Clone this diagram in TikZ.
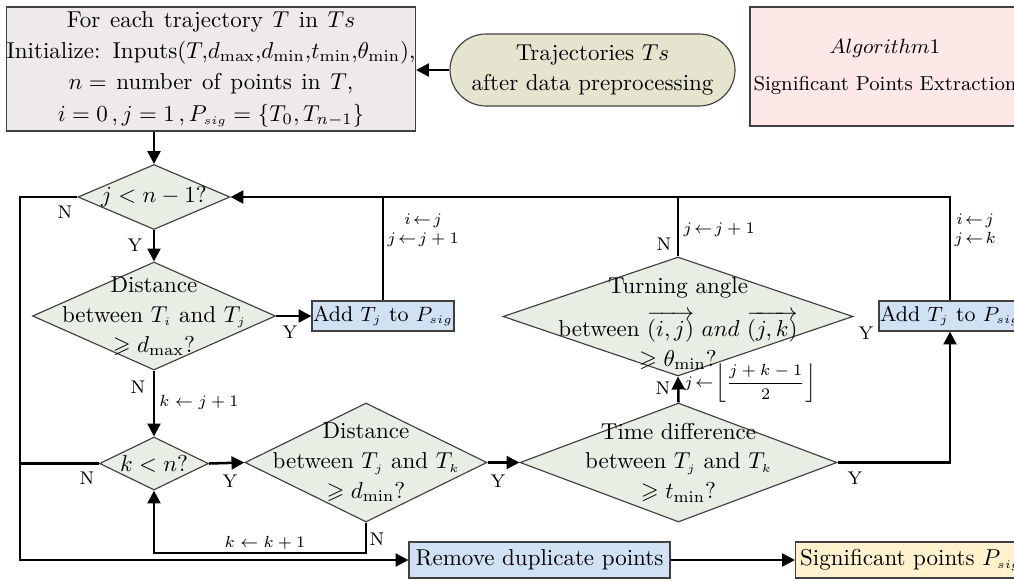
\documentclass[tikz,border=0pt]{standalone}
\usepackage{amsmath,amssymb}
\usetikzlibrary{arrows.meta,shapes.geometric,shapes.misc}
\def\pxu{0.435pt}
\definecolor{initfill}{HTML}{EEEAEB}
\definecolor{pillfill}{HTML}{E5E5CF}
\definecolor{algofill}{HTML}{FCE8E6}
\definecolor{diafill}{HTML}{E9EEE4}
\definecolor{bluefill}{HTML}{CFE1F3}
\definecolor{yelfill}{HTML}{FFF2CC}
\newcommand{\ssub}[1]{_{\scriptscriptstyle #1}}
\newcommand{\widesp}{\spaceskip=4.2pt plus 1pt\relax}
\tikzset{
  base/.style={draw=black!75, line width=0.5pt, inner sep=0pt, align=center, font=\fontsize{10}{13}\selectfont},
  dia/.style={base, diamond, fill=diafill},
  txt/.style={inner sep=0pt, align=center, font=\fontsize{10}{13}\selectfont},
  conn/.style={line width=1.1pt},
  arr/.style={conn, -{Triangle[length=5.6pt,width=5.6pt]}},
  yn/.style={font=\fontsize{8}{9}\selectfont, inner sep=0pt},
  asg/.style={font=\fontsize{7}{8.5}\selectfont, inner sep=0pt, align=center},
}
\begin{document}
\begin{tikzpicture}[x=0.435pt,y=-0.435pt]
\useasboundingbox (0,0) rectangle (1014,580);
\clip (0,0) rectangle (1014,580);
% boxes
\node[base, fill=initfill, minimum width=408*\pxu, minimum height=124*\pxu, font=\fontsize{10}{13.6}\selectfont\widesp] (init) at (211,69)
  {For each trajectory $T$ in $Ts$\\
   Initialize: Inputs$\thinmuskip=0mu(T,d_{\max},d_{\min},t_{\min},\theta_{\min})$,\\
   $n=$ number of points in $T$,\\
   $i=0\,,j=1\,,P\ssub{sig}=\{T_0,T_{n-1}\}$};
\node[base, rounded rectangle, fill=pillfill, minimum width=285*\pxu, minimum height=72*\pxu] (pill) at (592.5,70)
  {Trajectories $Ts$\\after data preprocessing};
\node[base, fill=algofill, minimum width=270*\pxu, minimum height=119*\pxu, font=\fontsize{8.8}{12}\selectfont] (algo) at (885,66.5)
  {$Algorithm 1$\\[4pt]Significant Points Extraction};
% diamonds
\node[dia, minimum width=152*\pxu, minimum height=65*\pxu] (d1) at (154,197) {};
\node[txt] (d1t) at (d1) {$j<n-1?$};
\node[dia, minimum width=243*\pxu, minimum height=108*\pxu] (d2) at (154,316) {};
\node[txt] (d2t) at (d2) {Distance\\ between $T\ssub{i}$ and $T\ssub{j}$\\ $\geqslant d_{\max}?$};
\node[dia, minimum width=350*\pxu, minimum height=119*\pxu] (d4) at (678,316.5) {};
\node[txt] (d4t) at ([yshift=-3pt]d4.center) {Turning angle\\[4.5pt] between $\overrightarrow{(i,j)}$ $and$ $\overrightarrow{(j,k)}$\\ $\geqslant\theta_{\min}?$};
\node[dia, minimum width=109*\pxu, minimum height=53*\pxu] (d3) at (154,463.5) {};
\node[txt] (d3t) at (d3) {$k<n?$};
\node[dia, minimum width=242*\pxu, minimum height=119*\pxu] (d5) at (366,462.5) {};
\node[txt] (d5t) at (d5) {Distance\\ between $T\ssub{j}$ and $T\ssub{k}$\\ $\geqslant d_{\min}?$};
\node[dia, minimum width=317*\pxu, minimum height=119*\pxu] (d6) at (678.5,462.5) {};
\node[txt] (d6t) at (d6) {Time difference\\ between $T\ssub{j}$ and $T\ssub{k}$\\ $\geqslant t_{\min}?$};
% process boxes
\node[base, fill=bluefill, minimum width=142*\pxu, minimum height=30*\pxu, font=\fontsize{9.3}{11}\selectfont] (add1) at (383,316) {Add $T\ssub{j}$ to $P\ssub{sig}$};
\node[base, fill=bluefill, minimum width=142*\pxu, minimum height=30*\pxu, font=\fontsize{9.3}{11}\selectfont] (add2) at (950,316) {Add $T\ssub{j}$ to $P\ssub{sig}$};
\node[base, fill=bluefill, minimum width=261*\pxu, minimum height=36*\pxu] (remove) at (539.5,560) {Remove duplicate points};
\node[base, fill=yelfill, minimum width=228*\pxu, minimum height=36*\pxu, anchor=west] (sig) at (795,560) {\hspace*{2pt}Significant points $P\ssub{sig}$\hspace*{20pt}};
% helper coordinates
\coordinate (nl) at (20,560);
\coordinate (lp) at (366,553);
% connectors
\draw[arr] (pill.west) -- (pill.west -| init.east);
\draw[arr] (init.south -| d1.north) -- (d1.north);
\draw[arr] (d1.south) -- (d2.north);
\draw[arr] (d2.east) -- (add1.west);
\draw[conn] (add1.north) -- (add1.north |- d1.east);
\draw[conn] (d4.north) -- (d4.north |- d1.east);
\draw[arr] (add2.north) -- (add2.north |- d1.east) -- (d1.east);
\draw[arr] (d2.south) -- (d3.north);
\draw[arr] (d3.east) -- (d5.west);
\draw[arr] (d5.east) -- (d6.west);
\draw[arr] (d6.east) -- (d6.east -| add2.south) -- (add2.south);
\draw[arr] (d6.north) -- (d4.south);
\draw[arr] (d5.south) -- (d5.south |- lp) -| (d3.south);
\draw[arr] (d1.west) -- (d1.west -| nl) -- (nl) -- (remove.west);
\draw[conn] (d3.west) -- (d3.west -| nl);
\draw[arr] (remove.east) -- (sig.west);
% labels
\node[yn] (l1) at (65,212) {N};
\node[yn] (l2) at (135,245) {Y};
\node[yn] (l3) at (290,332) {Y};
\node[asg, anchor=west] (l4) at (387,230) {$i\!\leftarrow\! j$\\$j\!\leftarrow\! j+1$};
\node[yn] (l5) at (138,387) {N};
\node[asg, anchor=west, font=\fontsize{7.5}{9}\selectfont] (l6) at (159,402) {$k\leftarrow j+1$};
\node[yn] (l7) at (87,478) {N};
\node[yn] (l8) at (230,481) {Y};
\node[yn] (l9) at (498,481) {Y};
\node[yn] (l10) at (377,539) {N};
\node[asg, font=\fontsize{7.5}{9}\selectfont] (l11) at (265,543) {$k\leftarrow k+1$};
\node[yn] (l12) at (855,478) {Y};
\node[yn] (l13) at (663,388) {N};
\node[asg, anchor=west] (l14) at (684,383) {$j\!\leftarrow\!\left\lfloor\dfrac{j+k-1}{2}\right\rfloor$};
\node[yn] (l15) at (664,244) {N};
\node[asg, anchor=west] (l16) at (683,230) {$j\!\leftarrow\! j+1$};
\node[yn] (l17) at (866,333) {Y};
\node[asg, anchor=west] (l18) at (954,230) {$i\!\leftarrow\! j$\\$j\!\leftarrow\! k$};
\end{tikzpicture}
\end{document}
